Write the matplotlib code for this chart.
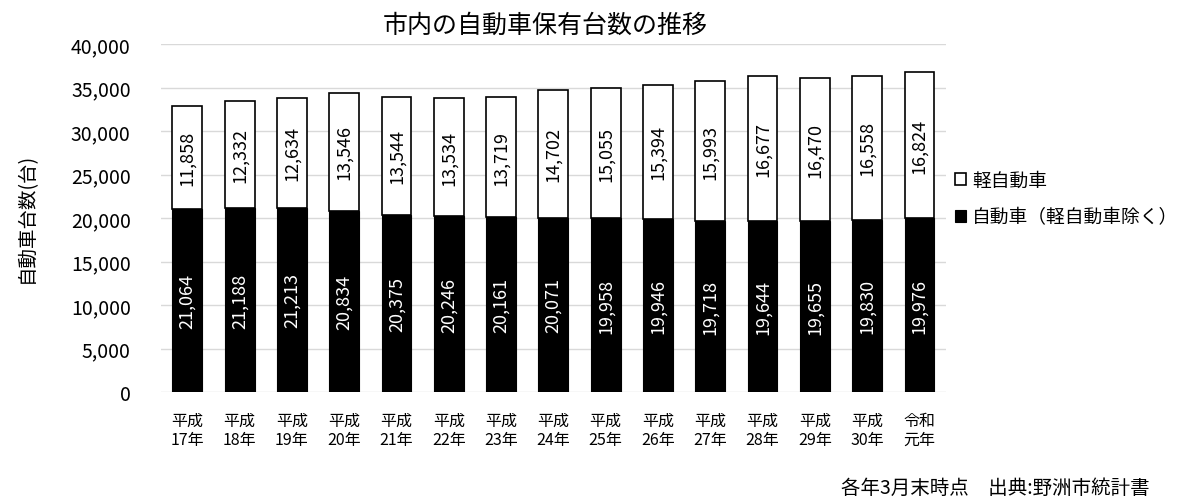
import matplotlib
matplotlib.use("Agg")
import matplotlib.pyplot as plt
from matplotlib.ticker import FuncFormatter, MultipleLocator

plt.rcParams['font.family'] = ['Noto Sans CJK JP', 'DejaVu Sans']

categories = ["平成\n17年", "平成\n18年", "平成\n19年", "平成\n20年", "平成\n21年", "平成\n22年",
              "平成\n23年", "平成\n24年", "平成\n25年", "平成\n26年", "平成\n27年", "平成\n28年",
              "平成\n29年", "平成\n30年", "令和\n元年"]
cars = [21064, 21188, 21213, 20834, 20375, 20246, 20161, 20071, 19958, 19946, 19718, 19644,
        19655, 19830, 19976]
kei = [11858, 12332, 12634, 13546, 13544, 13534, 13719, 14702, 15055, 15394, 15993, 16677,
       16470, 16558, 16824]

title = "市内の自動車保有台数の推移"
ylabel = "自動車台数(台)"
legend_kei = "軽自動車"
legend_car = "自動車（軽自動車除く）"
note = "各年3月末時点　出典:野洲市統計書"

fig = plt.figure(figsize=(12.03, 5.02), dpi=100)
ax = fig.add_axes([0.134, 0.217, 0.652, 0.693])

x = list(range(len(categories)))
w = 0.57
b1 = ax.bar(x, cars, width=w, color="black", edgecolor="black", linewidth=0.8, zorder=3,
            label=legend_car)
b2 = ax.bar(x, kei, width=w, bottom=cars, color="white", edgecolor="black", linewidth=1.2,
            zorder=3, label=legend_kei)

for i in x:
    ax.text(i, cars[i] / 2, f"{cars[i]:,}", rotation=90, ha="center", va="center",
            color="white", fontsize=13, zorder=4)
    ax.text(i, cars[i] + kei[i] / 2, f"{kei[i]:,}", rotation=90, ha="center", va="center",
            color="black", fontsize=13, zorder=4)

ax.set_xlim(-0.5, len(categories) - 0.5)
ax.set_ylim(0, 40000)
ax.yaxis.set_major_locator(MultipleLocator(5000))
ax.yaxis.set_major_formatter(FuncFormatter(lambda v, p: f"{int(v):,}"))
ax.set_xticks(x)
ax.set_xticklabels(categories, fontsize=11.5, linespacing=1.2)
ax.tick_params(axis="x", length=0, pad=14)
ax.tick_params(axis="y", length=0, labelsize=14, pad=22)
ax.grid(axis="y", color="#d9d9d9", linewidth=1, zorder=0)
for s in ax.spines.values():
    s.set_visible(False)

fig.text(0.022, 0.565, ylabel, rotation=90, ha="center", va="center", fontsize=14)
fig.text(0.453, 0.948, title, ha="center", va="center", fontsize=18)

handles = [b2, b1]
leg = fig.legend(handles, [legend_kei, legend_car], loc="upper left",
                 bbox_to_anchor=(0.794, 0.66), frameon=False, fontsize=13.5,
                 handlelength=0.6, handleheight=0.6, handletextpad=0.3, labelspacing=0.85,
                 borderaxespad=0, borderpad=0)

fig.text(0.956, 0.028, note, ha="right", va="center", fontsize=14)

fig.savefig("out.png", dpi=100)
